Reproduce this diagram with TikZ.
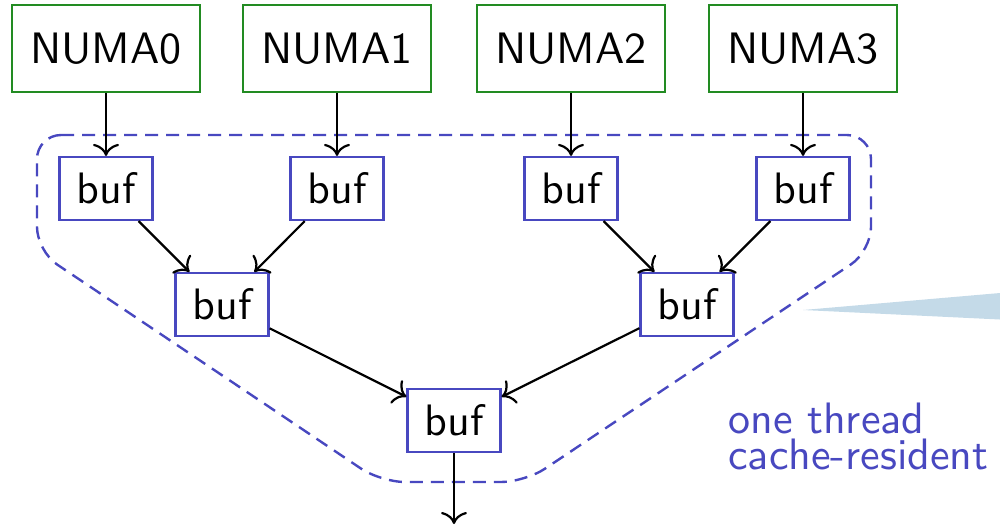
\documentclass[tikz,border=0pt]{standalone}
\usepackage{fontspec}
\newfontfamily\labelfont{lmsans10-regular.otf}
\usetikzlibrary{arrows.meta}
\definecolor{numagreen}{RGB}{34,139,34}
\definecolor{bufblue}{RGB}{72,72,192}
\definecolor{calloutblue}{RGB}{196,218,232}

\begin{document}
\begin{tikzpicture}[x=0.5pt,y=-0.5pt,
  every node/.style={font=\labelfont\fontsize{22}{18}\selectfont},
  numabox/.style={draw=numagreen, line width=1.1pt, minimum width=94pt,
    minimum height=43.5pt, inner sep=0pt},
  bufbox/.style={draw=bufblue, line width=1.1pt, minimum width=46.5pt,
    minimum height=31.5pt, inner sep=0pt, fill=white},
  flow/.style={-{To[length=6pt,width=13pt]}, line width=1.1pt},
  region/.style={draw=bufblue, line width=1.2pt,
    dash pattern=on 6.5pt off 4pt, rounded corners=12pt}]
\useasboundingbox (0,0) rectangle (1000,527);

% pointer of a callout coming in from the right
\fill[calloutblue] (803,310) -- (1000,293) -- (1000,319.5) -- cycle;

% the cache-resident part of the reduction tree
\draw[region] (37,135) -- (871,135) -- (871,251) -- (525,482)
  -- (381,482) -- (37,251) -- cycle;

% memory domains
\node[numabox] (numa0) at (106,48.5) {NUMA0};
\node[numabox] (numa1) at (337,48.5) {NUMA1};
\node[numabox] (numa2) at (571,48.5) {NUMA2};
\node[numabox] (numa3) at (803,48.5) {NUMA3};

% buffers
\node[bufbox] (b0) at (106,188.5) {buf};
\node[bufbox] (b1) at (337,188.5) {buf};
\node[bufbox] (b2) at (571,188.5) {buf};
\node[bufbox] (b3) at (803,188.5) {buf};
\node[bufbox] (c0) at (222,304.5) {buf};
\node[bufbox] (c1) at (687,304.5) {buf};
\node[bufbox] (root) at (454,420.5) {buf};
\coordinate (out) at (454,524);

\node[anchor=north west, inner sep=0pt, text=bufblue, align=left]
  (note) at (728,403) {one thread\\cache-resident};

% data flow
\draw[flow] (numa0) -- (b0);
\draw[flow] (numa1) -- (b1);
\draw[flow] (numa2) -- (b2);
\draw[flow] (numa3) -- (b3);
\draw[flow] (b0) -- (c0);
\draw[flow] (b1) -- (c0);
\draw[flow] (b2) -- (c1);
\draw[flow] (b3) -- (c1);
\draw[flow] (c0) -- (root);
\draw[flow] (c1) -- (root);
\draw[flow] (root) -- (out);
\end{tikzpicture}
\end{document}
